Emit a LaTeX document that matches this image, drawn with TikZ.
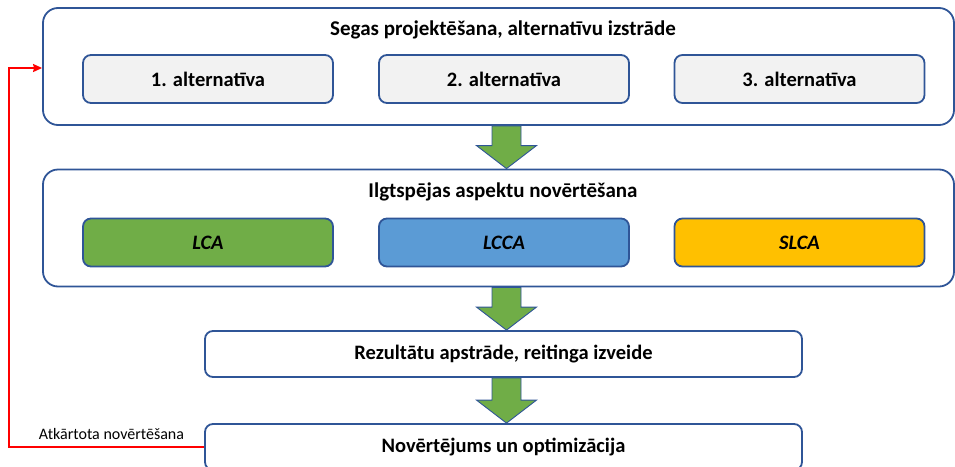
\documentclass[tikz,border=0pt]{standalone}
\usepackage{fontspec}
\setmainfont{Carlito}
\usetikzlibrary{calc,arrows.meta}
\definecolor{frameblue}{HTML}{2F5597}
\definecolor{arrowgreen}{HTML}{70AD47}
\definecolor{lcagreen}{HTML}{70AD47}
\definecolor{lccablue}{HTML}{5B9BD5}
\definecolor{slcagold}{HTML}{FFC000}
\definecolor{altgrey}{HTML}{F2F2F2}
% block arrow between two boxes: #1 start, #2 end
\newcommand{\bigarrow}[2]{%
  \path[blockarrow] let \p1=(#1), \p2=(#2) in
    (\x1-14.5pt,\y1) -- (\x1+14.5pt,\y1) -- (\x1+14.5pt,\y2+23pt) -- (\x1+30pt,\y2+23pt)
    -- (\x2,\y2) -- (\x1-30pt,\y2+23pt) -- (\x1-14.5pt,\y2+23pt) -- cycle;}
\begin{document}
\begin{tikzpicture}[x=1pt,y=-1pt,>={Stealth[length=9pt,width=8pt,inset=1pt]},
	bigfont/.style={font=\fontsize{20.5}{24}\selectfont\bfseries},
	group/.style={draw=frameblue,line width=1.8pt,rounded corners=15pt,minimum width=911pt,minimum height=117pt,inner sep=0pt},
	item/.style={draw=frameblue,line width=1.8pt,rounded corners=8pt,minimum width=250pt,minimum height=48pt,inner sep=0pt,bigfont},
	stage/.style={draw=frameblue,line width=1.8pt,rounded corners=8pt,minimum width=597pt,minimum height=46pt,inner sep=0pt,bigfont},
	blockarrow/.style={fill=arrowgreen,draw=frameblue,line width=0.9pt}]
	\clip (0,0) rectangle (955,466);
	\useasboundingbox (0,0) rectangle (955,466);
	% design and alternatives
	\node[group] (design) at (498.5,66.5) {};
	\node[bigfont,font=\fontsize{21}{25}\selectfont\bfseries] (designtitle) at (503,30) {Segas projektēšana, alternatīvu izstrāde};
	\node[item,fill=altgrey] (alt1) at (208,79) {1. alternatīva};
	\node[item,fill=altgrey] (alt2) at (504,79) {2. alternatīva};
	\node[item,fill=altgrey] (alt3) at (799.5,79) {3. alternatīva};
	% sustainability assessment
	\node[group] (assess) at (498.5,228) {};
	\node[bigfont,font=\fontsize{21}{25}\selectfont\bfseries] (assesstitle) at (503,192) {Ilgtspējas aspektu novērtēšana};
	\node[item,fill=lcagreen] (lca) at (208,242.5) {\itshape LCA};
	\node[item,fill=lccablue] (lcca) at (504,242.5) {\itshape LCCA};
	\node[item,fill=slcagold] (slca) at (799.5,242.5) {\itshape SLCA};
	% results and optimisation
	\node[stage] (results) at (503.5,354) {Rezultātu apstrāde, reitinga izveide};
	\node[stage] (optim) at (503.5,447) {Novērtējums un optimizācija};
	\coordinate (ax) at (506.5,0);
	\bigarrow{ax |- design.south}{ax |- assess.north}
	\bigarrow{ax |- assess.south}{ax |- results.north}
	\bigarrow{ax |- results.south}{ax |- optim.north}
	% feedback loop
	\coordinate (loopbot) at (9,447);
	\coordinate (looptop) at (9,68);
	\draw[->,red,line width=1.8pt] (optim.west) -- (loopbot) -- (looptop) -- (looptop -| design.west);
	\node[font=\fontsize{16}{19}\selectfont,anchor=south] (looplabel) at (111.5,443) {Atkārtota novērtēšana};
\end{tikzpicture}
\end{document}
